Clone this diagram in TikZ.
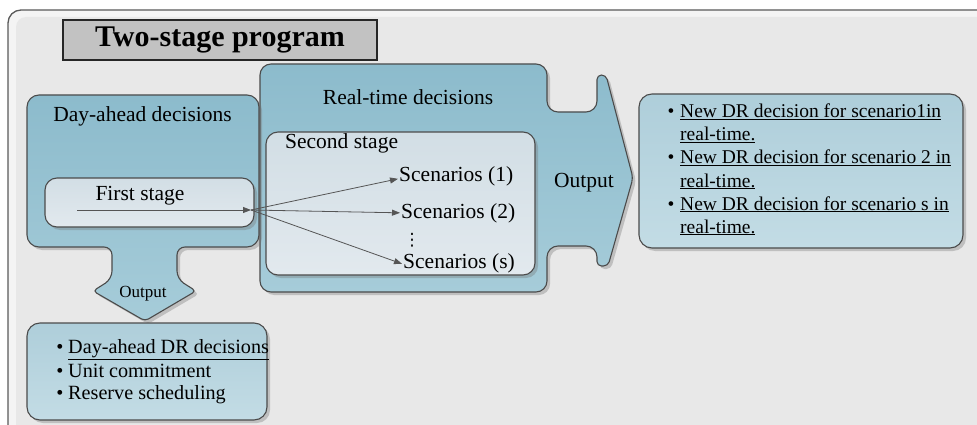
\documentclass[tikz,border=0pt]{standalone}
\usepackage{fontspec}
\setmainfont{Liberation Serif}
\newfontfamily\symbolfont{DejaVu Sans}
\usetikzlibrary{arrows.meta,shadows}

\definecolor{framestroke}{HTML}{5A5A5A}
\definecolor{framelight}{HTML}{F4F4F4}
\definecolor{framefill}{HTML}{E8E8E8}
\definecolor{bluetop}{HTML}{8CBBCC}
\definecolor{bluebot}{HTML}{A6CCD9}
\definecolor{palette}{HTML}{D2DEE5}
\definecolor{palebot}{HTML}{E2E9EE}
\definecolor{outtop}{HTML}{AECEDA}
\definecolor{outbot}{HTML}{C3DCE5}
\definecolor{edge}{HTML}{4B4B4B}
\definecolor{titlefill}{HTML}{C2C2C2}
\definecolor{arrowgray}{HTML}{555555}

\tikzset{
  softshadow/.style={drop shadow={shadow xshift=3pt,shadow yshift=-3pt,opacity=0.35,fill=black!55}},
  blueshape/.style={draw=edge,line width=1.1pt,top color=bluetop,bottom color=bluebot,softshadow},
  innerbox/.style={draw=edge,line width=1.1pt,rounded corners=12pt,top color=palette,bottom color=palebot,
    softshadow,inner sep=0pt},
  outbox/.style={draw=edge,line width=1.1pt,rounded corners=13pt,top color=outtop,bottom color=outbot,
    softshadow,inner sep=0pt},
  titlebox/.style={draw=black!85,line width=1.5pt,fill=titlefill,inner sep=0pt,
    font=\fontsize{30}{32}\selectfont\bfseries},
  headtxt/.style={inner sep=0pt,font=\fontsize{21.5}{24}\selectfont},
  listtxt/.style={inner sep=0pt,font=\fontsize{20.2}{23}\selectfont},
  resulttxt/.style={inner sep=0pt,font=\fontsize{19.5}{23}\selectfont},
  smalltxt/.style={inner sep=0pt,font=\fontsize{17}{19}\selectfont},
  flow/.style={draw=arrowgray,line width=0.8pt,-{Triangle[length=8pt,width=6pt]}},
}

\begin{document}
\begin{tikzpicture}[x=1pt,y=-1pt]
\useasboundingbox (0,0) rectangle (977,425);

% page frame, running off the right and bottom edges
\begin{scope}
  \clip (0,0) rectangle (977,425);
  \fill[white] (0,0) rectangle (977,425);
  \draw[draw=framestroke,fill=framelight,line width=1.3pt,rounded corners=13pt] (8,10) rectangle (1010,460);
  \fill[framefill,rounded corners=10pt] (16,17) rectangle (1010,460);
\end{scope}

% heading
\node[titlebox,minimum width=314pt,minimum height=40pt] (title) at (220,40) {Two-stage program};

% real-time block with its output arrow
\draw[blueshape,rounded corners=11pt]
  (260,64) -- (547,64) -- (547,112) -- (597,112)
  [rounded corners=4.5pt] -- (597,75) -- (606,75) -- (633,178) -- (608,266) -- (597,266)
  [rounded corners=11pt] -- (597,246) -- (547,246) -- (547,292) -- (260,292) -- cycle;

% day-ahead block with its output arrow
\draw[blueshape,rounded corners=12pt]
  (27,95) -- (259,95) -- (259,247)
  [rounded corners=8pt] -- (177,247) -- (177,279)
  [rounded corners=4pt] -- (196,291) -- (145,321) -- (93,291)
  [rounded corners=8pt] -- (112,279) -- (112,247)
  [rounded corners=12pt] -- (27,247) -- cycle;

% inner stage boxes
\node[innerbox,minimum width=269pt,minimum height=143pt] (second) at (400.5,203.5) {};
\node[innerbox,minimum width=209pt,minimum height=49pt] (first) at (149.5,202.5) {};

% result boxes
\node[outbox,minimum width=324pt,minimum height=154pt] (rtout) at (801,171) {};
\node[outbox,minimum width=240pt,minimum height=97pt] (daout) at (147,371.5) {};

% block titles
\node[headtxt,anchor=base] (dahead) at (142.5,122) {Day-ahead decisions};
\node[headtxt,anchor=base] (rtime) at (408,105) {Real-time decisions};
\node[headtxt,anchor=base] (firstlbl) at (140,200) {First stage};
\node[headtxt,anchor=base west] (secondlbl) at (285,149) {Second stage};
\node[headtxt,anchor=base] (rtarrow) at (584,187) {Output};
\node[smalltxt,anchor=base] (daarrow) at (143,297) {Output};

% scenarios
\node[headtxt,anchor=base west,inner sep=1pt] (sc1) at (398,181) {Scenarios (1)};
\node[headtxt,anchor=base west,inner sep=1pt] (sc2) at (400,218) {Scenarios (2)};
\node[headtxt,anchor=base west,inner sep=1pt] (scs) at (402,268) {Scenarios (s)};
\node[inner sep=0pt,font=\symbolfont\fontsize{17}{17}\selectfont] (dots) at (412,240) {⋮};

% decision flow
\coordinate (start) at (77,210);
\coordinate (fork) at (251,210);
\draw[flow] (start) -- (fork);
\draw[flow] (fork) -- ([yshift=-3pt]sc1.west);
\draw[flow] (fork) -- (sc2.west);
\draw[flow] (fork) -- ([yshift=-1pt]scs.west);

% real-time results
\begin{scope}[every node/.style={resulttxt}]
  \node[anchor=base] (rb1) at (671,118) {\textbullet};
  \node[anchor=base west] (rl1) at (680,118) {\underline{New DR decision for scenario1in}};
  \node[anchor=base west] (rl1b) at (680,141) {\underline{real-time.}};
  \node[anchor=base] (rb2) at (671,164) {\textbullet};
  \node[anchor=base west] (rl2) at (680,164) {\underline{New DR decision for scenario 2 in}};
  \node[anchor=base west] (rl2b) at (680,187) {\underline{real-time.}};
  \node[anchor=base] (rb3) at (671,210) {\textbullet};
  \node[anchor=base west] (rl3) at (680,210) {\underline{New DR decision for scenario s in}};
  \node[anchor=base west] (rl3b) at (680,233) {\underline{real-time.}};
\end{scope}

% day-ahead results
\begin{scope}[every node/.style={listtxt}]
  \node[anchor=base] (db1) at (60,353) {\textbullet};
  \node[anchor=base west] (dl1) at (68,353) {\underline{Day-ahead DR decisions}};
  \node[anchor=base] (db2) at (60,377) {\textbullet};
  \node[anchor=base west] (dl2) at (68,377) {Unit commitment};
  \node[anchor=base] (db3) at (60,399) {\textbullet};
  \node[anchor=base west] (dl3) at (68,399) {Reserve scheduling};
\end{scope}
\end{tikzpicture}
\end{document}
